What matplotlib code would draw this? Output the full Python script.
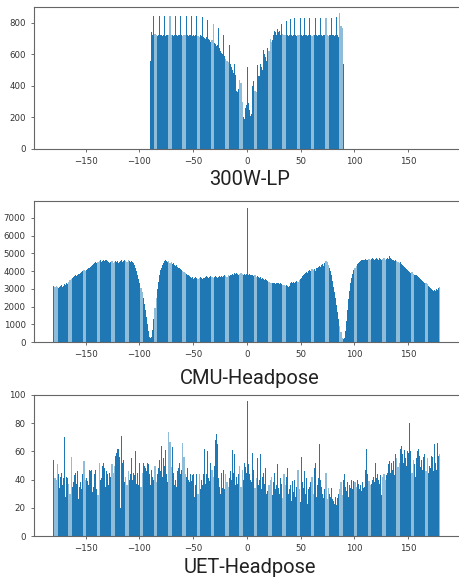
import matplotlib
matplotlib.use("Agg")
import matplotlib.pyplot as plt
import numpy as np

# ---------------- data ----------------
titles = ["300W-LP", "CMU-Headpose", "UET-Headpose"]

w300_start = -90
w300_counts = [
    560, 740, 720, 845, 730, 720, 715, 725, 840, 720, 725, 715, 720, 840, 715, 720, 725, 720, 840, 720,
    725, 715, 720, 840, 720, 715, 725, 720, 840, 720, 715, 720, 725, 840, 720, 715, 720, 725, 840, 715,
    720, 715, 720, 840, 715, 710, 720, 715, 835, 710, 705, 700, 710, 820, 700, 690, 680, 690, 795, 670,
    665, 650, 660, 765, 640, 620, 610, 600, 720, 590, 570, 560, 550, 660, 540, 520, 500, 480, 540, 470,
    370, 360, 380, 440, 420, 300, 200, 190, 260, 280, 520, 290, 250, 210, 220, 400, 430, 370, 360, 530,
    460, 460, 540, 520, 500, 630, 600, 580, 560, 640, 620, 700, 680, 690, 720, 750, 740, 720, 760, 740,
    745, 720, 795, 730, 720, 720, 810, 720, 715, 720, 825, 720, 715, 720, 830, 720, 715, 720, 720, 830,
    720, 715, 720, 830, 720, 720, 715, 720, 830, 720, 715, 720, 720, 830, 720, 715, 720, 720, 830, 720,
    715, 720, 725, 830, 720, 715, 720, 720, 830, 720, 720, 715, 720, 835, 720, 710, 860, 780, 770, 540,
]

cmu_start = -180
cmu_counts = [
    3150, 3100, 3180, 3120, 3050, 3100, 3150, 3200, 3120, 3180, 3250, 3200, 3300, 3280, 3400, 3500, 3550, 3600, 3650, 3700,
    3750, 3720, 3800, 3850, 3830, 3900, 3950, 4000, 4050, 4020, 4050, 4100, 4150, 4200, 4250, 4300, 4350, 4400, 4450, 4500,
    4450, 4500, 4550, 4600, 4500, 4550, 4600, 4550, 4650, 4600, 4550, 4500, 4450, 4500, 4550, 4450, 4500, 4550, 4500, 4550,
    4450, 4500, 4550, 4600, 4500, 4550, 4600, 4550, 4500, 4600, 4550, 4500, 4550, 4500, 4450, 4350, 4200, 4000, 3800, 3550,
    3300, 3050, 2800, 2500, 2150, 1800, 1400, 1000, 600, 300, 250, 280, 700, 1300, 1900, 2500, 3000, 3400, 3750, 4050,
    4200, 4350, 4450, 4550, 4600, 4550, 4500, 4550, 4450, 4500, 4400, 4450, 4350, 4300, 4350, 4250, 4200, 4150, 4100, 4050,
    4000, 3950, 3900, 3850, 3800, 3750, 3700, 3650, 3600, 3650, 3550, 3600, 3650, 3600, 3550, 3600, 3650, 3600, 3550, 3600,
    3600, 3650, 3700, 3650, 3600, 3650, 3700, 3650, 3600, 3650, 3700, 3650, 3600, 3650, 3700, 3650, 3700, 3650, 3700, 3750,
    3700, 3650, 3750, 3700, 3800, 3750, 3850, 3800, 3900, 3850, 3900, 3850, 3800, 3850, 3900, 3850, 3800, 3850, 3800, 3850,
    7570, 3800, 3850, 3750, 3800, 3750, 3700, 3750, 3650, 3700, 3650, 3600, 3650, 3550, 3600, 3550, 3500, 3550, 3500, 3450,
    3400, 3350, 3300, 3350, 3300, 3300, 3250, 3300, 3350, 3300, 3250, 3300, 3250, 3200, 3200, 3150, 3200, 3150, 3100, 3150,
    3300, 3400, 3350, 3400, 3350, 3400, 3450, 3400, 3500, 3550, 3600, 3700, 3800, 3850, 3900, 3950, 3900, 4000, 4050, 4000,
    4100, 4050, 4100, 4000, 4150, 4200, 4250, 4300, 4250, 4350, 4400, 4300, 4450, 4550, 4500, 4350, 4200, 4000, 3750, 3450,
    3100, 2800, 2500, 2100, 1700, 1300, 900, 550, 250, 150, 200, 600, 1200, 1800, 2400, 2900, 3300, 3600, 3850, 4050,
    4200, 4300, 4400, 4450, 4500, 4550, 4600, 4650, 4600, 4650, 4700, 4650, 4600, 4700, 4650, 4700, 4750, 4700, 4650, 4700,
    4750, 4700, 4650, 4750, 4700, 4650, 4700, 4750, 4650, 4700, 4750, 4700, 4850, 4750, 4700, 4650, 4600, 4550, 4600, 4550,
    4500, 4450, 4500, 4400, 4350, 4300, 4250, 4150, 4100, 4050, 4000, 3950, 3900, 3950, 3850, 3800, 3800, 3750, 3700, 3650,
    3600, 3550, 3500, 3450, 3400, 3350, 3300, 3250, 3150, 3100, 3050, 3000, 2950, 2900, 2950, 2900, 3000, 2950, 3050, 3100,
]

uet_start = -180
uet_counts = [
    54, 41, 40, 51, 44, 34, 42, 45, 36, 41, 70, 28, 42, 41, 37, 30, 56, 35, 38, 43,
    45, 37, 46, 26, 35, 38, 33, 44, 53, 40, 41, 39, 36, 47, 46, 47, 31, 35, 44, 47,
    33, 29, 52, 40, 41, 50, 52, 48, 35, 46, 44, 36, 45, 42, 51, 45, 50, 57, 59, 62,
    62, 56, 20, 71, 52, 54, 38, 42, 36, 46, 40, 44, 55, 40, 45, 43, 60, 37, 45, 36,
    52, 35, 45, 52, 50, 48, 46, 52, 51, 44, 36, 47, 42, 40, 50, 38, 44, 48, 54, 46,
    64, 42, 55, 50, 61, 44, 38, 74, 67, 49, 63, 45, 36, 40, 35, 46, 48, 52, 44, 47,
    66, 56, 44, 42, 48, 40, 38, 44, 39, 43, 44, 28, 36, 44, 30, 44, 33, 40, 36, 44,
    62, 37, 44, 60, 41, 39, 52, 47, 42, 50, 68, 72, 65, 41, 35, 30, 45, 34, 47, 33,
    44, 38, 35, 41, 46, 40, 61, 45, 58, 36, 42, 37, 44, 50, 35, 47, 40, 52, 49, 45,
    96, 51, 44, 40, 38, 59, 47, 34, 41, 55, 36, 40, 58, 33, 42, 45, 37, 48, 30, 32,
    36, 40, 42, 29, 38, 45, 33, 36, 51, 34, 30, 41, 37, 27, 44, 36, 42, 48, 30, 33,
    36, 25, 39, 31, 40, 28, 35, 47, 33, 24, 56, 38, 34, 46, 30, 41, 23, 33, 35, 38,
    42, 30, 48, 52, 28, 36, 41, 65, 40, 35, 30, 27, 33, 45, 26, 34, 30, 28, 34, 26,
    25, 23, 28, 22, 27, 30, 33, 38, 29, 40, 44, 35, 32, 38, 28, 36, 34, 40, 33, 39,
    38, 35, 40, 37, 33, 36, 32, 38, 34, 35, 47, 62, 44, 39, 36, 37, 40, 42, 38, 52,
    41, 44, 40, 37, 43, 29, 42, 44, 40, 43, 45, 51, 53, 45, 52, 47, 53, 43, 58, 55,
    49, 52, 62, 64, 58, 52, 61, 55, 50, 60, 59, 80, 60, 45, 54, 51, 42, 55, 60, 62,
    57, 49, 54, 47, 56, 58, 46, 55, 45, 50, 48, 57, 56, 46, 65, 52, 47, 66, 57, 58,
]

x_ticks = [-150, -100, -50, 0, 50, 100, 150]
y_ticks = [[0, 200, 400, 600, 800],
           [0, 1000, 2000, 3000, 4000, 5000, 6000, 7000],
           [0, 20, 40, 60, 80, 100]]
y_limits = [(0, 900), (0, 7950), (0, 100)]

# ---------------- figure ----------------
fig = plt.figure(figsize=(4.6, 5.79), dpi=100)
W, H = 460, 579

def frac_box(left, top, right, bottom):
    return [left / W, 1 - bottom / H, (right - left) / W, (bottom - top) / H]

boxes = [frac_box(34, 7, 462, 149),
         frac_box(34, 201, 462, 342),
         frac_box(34, 395, 462, 536)]
title_y = [185, 384, 573]

datasets = [(w300_start, w300_counts), (cmu_start, cmu_counts), (uet_start, uet_counts)]

for i, ((start, counts), box) in enumerate(zip(datasets, boxes)):
    ax = fig.add_axes(box)
    edges = np.arange(start, start + len(counts))
    # light underlay (anti-aliased seams between the thin bins)
    ax.bar(edges, counts, width=1.0, align="edge", color="#8fbcd9", linewidth=0)
    ax.bar(edges + 0.1, counts, width=0.75, align="edge", color="#1f77b4", linewidth=0)
    ax.set_xlim(-198, 200)
    ax.set_ylim(*y_limits[i])
    ax.set_xticks(x_ticks)
    ax.set_yticks(y_ticks[i])
    ax.tick_params(labelsize=6.2, length=2.5, width=0.6, colors="#555555", labelcolor="#333333")
    for s in ax.spines.values():
        s.set_color("#666666")
        s.set_linewidth(0.8)
    fig.text(250 / W, 1 - title_y[i] / H, titles[i], ha="center", va="baseline",
             fontsize=14.5, family=["Roboto", "DejaVu Sans"], color="#222222")

fig.savefig("out.png", dpi=100)
